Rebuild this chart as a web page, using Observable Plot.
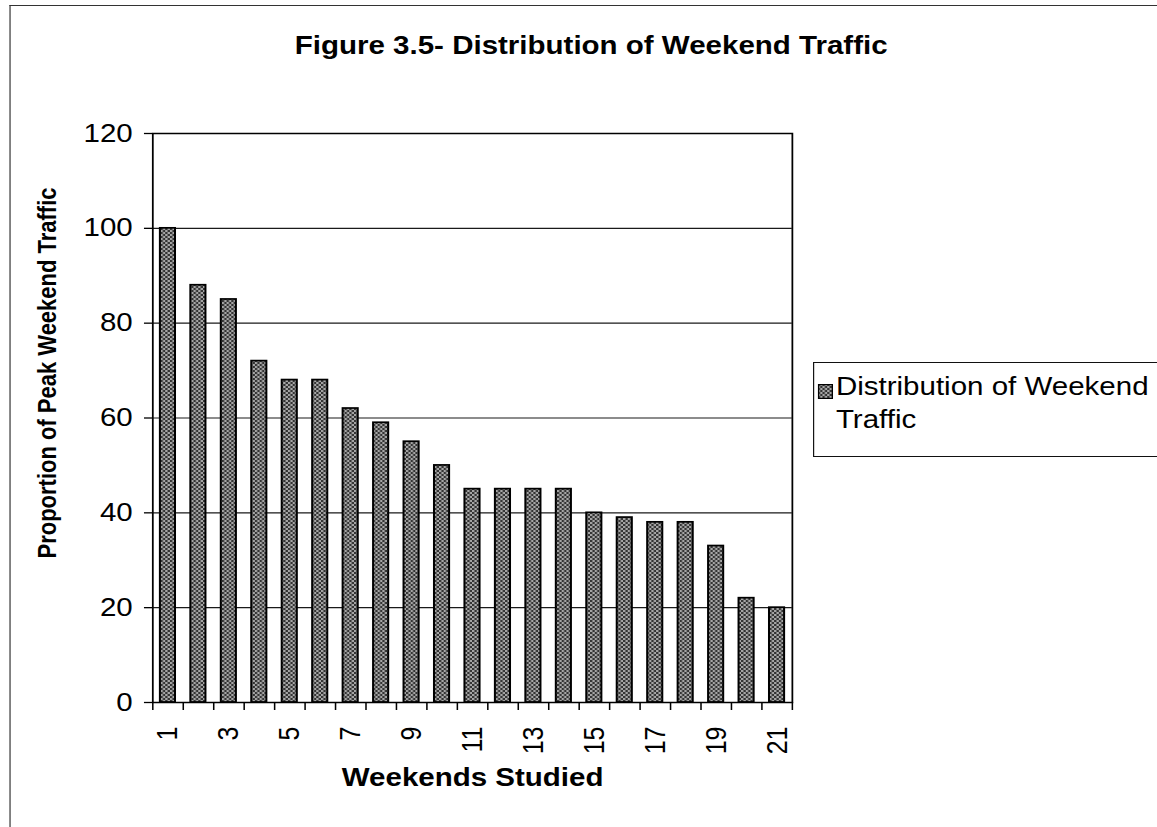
<!DOCTYPE html>
<html>
<head>
<meta charset="utf-8">
<script src="https://cdn.jsdelivr.net/npm/d3@7"></script>
<script src="https://cdn.jsdelivr.net/npm/@observablehq/plot@0.6"></script>
<style>
html, body { margin: 0; padding: 0; background: #fff; overflow: hidden; }
#wrap { position: relative; width: 980px; height: 827px; transform: scaleX(1.18); transform-origin: 0 0;
        font-family: "Liberation Sans", Arial, sans-serif; color: #000; }
#border { position: absolute; left: 7.6px; top: 5px; width: 1200px; height: 1000px;
          border-left: 1.5px solid #333; border-top: 1.5px solid #333; }
#title { position: absolute; left: 0; width: 1002px; top: 33px; text-align: center;
         font-weight: bold; font-size: 25px; line-height: 25px; white-space: nowrap; }
#chart { position: absolute; left: 0; top: 0; }
#legend { position: absolute; left: 689px; top: 362px; width: 400px; height: 95px; box-sizing: border-box;
          border: 1.2px solid #111; background: #fff; }
#legend svg { position: absolute; left: 3px; top: 21px; }
#legend .txt { position: absolute; left: 18.4px; top: 7px; font-size: 25px; line-height: 33px; white-space: nowrap; }
</style>
</head>
<body>
<div id="wrap">
  <div id="border"></div>
  <div id="chart"></div>
  <div id="title"></div>
  <div id="legend"></div>
</div>
<script>
// ---- data ----
const chartTitle = "Figure 3.5- Distribution of Weekend Traffic";
const xTitle = "Weekends Studied";
const yTitle = "Proportion of Peak Weekend Traffic";
const seriesName = ["Distribution of Weekend", "Traffic"];
const weeks = [1, 2, 3, 4, 5, 6, 7, 8, 9, 10, 11, 12, 13, 14, 15, 16, 17, 18, 19, 20, 21];
const values = [100, 88, 85, 72, 68, 68, 62, 59, 55, 50, 45, 45, 45, 45, 40, 39, 38, 38, 33, 22, 20];
const yTicks = [0, 20, 40, 60, 80, 100, 120];
const xLabelTicks = [1, 3, 5, 7, 9, 11, 13, 15, 17, 19, 21];

const data = weeks.map((w, i) => ({week: w, value: values[i]}));
const boundaries = weeks.map(w => w - 0.5).concat([weeks[weeks.length - 1] + 0.5]);

const patternDef = `<pattern id="dither" width="4" height="4" patternUnits="userSpaceOnUse">
  <rect width="4" height="4" fill="#a6a6a6"/>
  <rect width="2" height="2" fill="#333333"/>
  <rect x="2" y="2" width="2" height="2" fill="#333333"/></pattern>`;

const chart = Plot.plot({
  width: 980,
  height: 827,
  marginLeft: 129,
  marginRight: 309,
  marginTop: 133,
  marginBottom: 125,
  style: {fontFamily: "'Liberation Sans', Arial, sans-serif", fontSize: "25px", color: "#000", background: "transparent"},
  x: {domain: [0.5, 21.5]},
  y: {domain: [0, 120]},
  marks: [
    Plot.ruleY(yTicks.filter(d => d > 0 && d < 120), {stroke: "#1a1a1a", strokeWidth: 1.2}),
    Plot.rect(data, {
      x1: d => d.week - 0.5, x2: d => d.week + 0.5, y1: d => 0, y2: "value",
      insetLeft: 6.5, insetRight: 6.5,
      fill: "url(#dither)", stroke: "#000", strokeWidth: 1.7
    }),
    Plot.frame({stroke: "#000", strokeWidth: 1.5}),
    Plot.axisY({ticks: yTicks, tickSize: 7, tickPadding: 10, label: null, fontSize: 25, stroke: "#000", strokeWidth: 1.3}),
    Plot.axisX({ticks: boundaries, tickSize: 8, tickFormat: () => "", label: null, stroke: "#000", strokeWidth: 1.3}),
    Plot.axisX({ticks: xLabelTicks, tickSize: 0, tickPadding: 24, tickRotate: -90, textAnchor: "end", label: null, fontSize: 25}),
    Plot.text([xTitle], {frameAnchor: "bottom", dy: 83, fontWeight: "bold", fontSize: 25, fill: "#000"}),
    Plot.text([yTitle], {frameAnchor: "left", textAnchor: "middle", dx: -89, dy: -45, rotate: -90, fontWeight: "bold", fontSize: 22, fill: "#000"})
  ]
});
const defs = document.createElementNS("http://www.w3.org/2000/svg", "defs");
defs.innerHTML = patternDef;
chart.prepend(defs);
document.getElementById("chart").appendChild(chart);

document.getElementById("title").textContent = chartTitle;

const legend = document.getElementById("legend");
legend.innerHTML = `<svg width="13" height="15">${"<defs>" + patternDef.replace('id="dither"', 'id="dither2"') + "</defs>"}
  <rect x="0.6" y="0.6" width="11.8" height="13.8" fill="url(#dither2)" stroke="#000" stroke-width="1.2"/></svg>
  <div class="txt">${seriesName.join("<br>")}</div>`;
</script>
</body>
</html>
